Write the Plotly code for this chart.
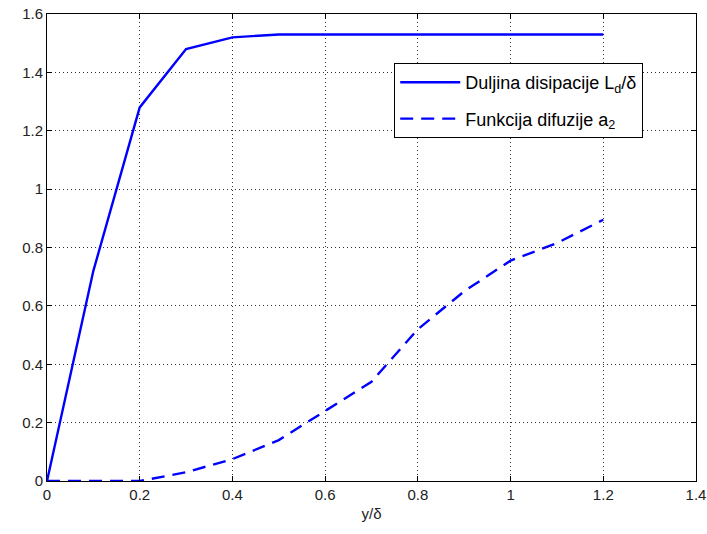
import plotly.graph_objects as go

x_vals = [0, 0.1, 0.2, 0.3, 0.4, 0.5, 0.6, 0.7, 0.8, 0.9, 1.0, 1.1, 1.2]
duljina = [0, 0.72, 1.28, 1.48, 1.52, 1.53, 1.53, 1.53, 1.53, 1.53, 1.53, 1.53, 1.53]
funkcija = [0, 0, 0, 0.03, 0.075, 0.14, 0.24, 0.34, 0.52, 0.65, 0.755, 0.815, 0.895]
x_ticks = [0, 0.2, 0.4, 0.6, 0.8, 1, 1.2, 1.4]
x_tick_labels = ["0", "0.2", "0.4", "0.6", "0.8", "1", "1.2", "1.4"]
y_ticks = [0, 0.2, 0.4, 0.6, 0.8, 1, 1.2, 1.4, 1.6]
y_tick_labels = ["0", "0.2", "0.4", "0.6", "0.8", "1", "1.2", "1.4", "1.6"]

FONT = "Liberation Sans, Arial"

fig = go.Figure()
fig.add_trace(go.Scatter(x=x_vals, y=duljina, mode="lines",
                         name="Duljina disipacije L<sub>d</sub>/δ", legendgroup="a",
                         line=dict(color="#0000ff", width=2.4)))
fig.add_trace(go.Scatter(x=x_vals, y=funkcija, mode="lines",
                         name="Funkcija difuzije a<sub>2</sub>", legendgroup="b",
                         line=dict(color="#0000ff", width=2.4, dash="13px,8px")))

axis_common = dict(showline=True, linecolor="black", linewidth=1, mirror="ticks",
                   ticks="inside", ticklen=5, tickcolor="black",
                   showgrid=True, gridcolor="#333", gridwidth=1, griddash="1px,3px",
                   zeroline=False, automargin=False,
                   tickfont=dict(family=FONT, size=15, color="#222"))

fig.update_xaxes(range=[0, 1.4], tickvals=x_ticks, ticktext=x_tick_labels,
                 title=dict(text="y/δ", font=dict(family=FONT, size=15, color="#222"), standoff=6),
                 **axis_common)
fig.update_yaxes(range=[0, 1.6], tickvals=y_ticks, ticktext=y_tick_labels, **axis_common)

fig.update_layout(
    width=707, height=534,
    margin=dict(l=47, r=11, t=14, b=53),
    paper_bgcolor="white", plot_bgcolor="white",
    showlegend=True,
    legend=dict(x=0.535, y=0.895, xanchor="left", yanchor="top",
                bgcolor="white", bordercolor="black", borderwidth=1,
                font=dict(family=FONT, size=18, color="black"),
                tracegroupgap=10, itemwidth=60),
)

fig.write_html("out.html", config={"displayModeBar": False},
               post_script="document.body.style.margin='0';document.body.style.overflow='hidden';")
